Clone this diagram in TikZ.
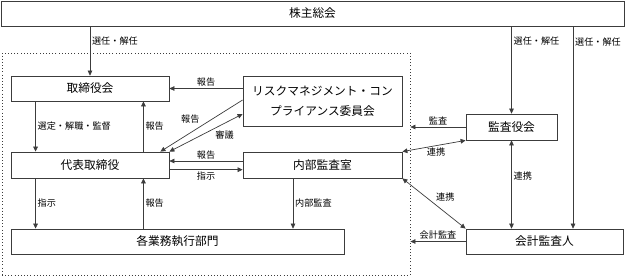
\documentclass[tikz,border=0pt]{standalone}
\usepackage{fontspec}
\setmainfont{Noto Sans CJK JP}
\usepackage{xcolor}
\usetikzlibrary{arrows.meta, positioning, calc}
\definecolor{linegray}{RGB}{60, 60, 60}

\begin{document}
\begin{tikzpicture}[
  x=0.03cm, y=-0.03cm,
  every node/.style={font=\fontsize{10}{12}\selectfont},
  box/.style={draw=linegray, line width=0.7pt, fill=white, align=center, inner sep=0pt},
  arrow/.style={-{Triangle[length=1.5mm, width=1.4mm]}, line width=0.6pt, color=linegray},
  both/.style={{Triangle[length=1.5mm, width=1.4mm]}-{Triangle[length=1.5mm, width=1.4mm]}, line width=0.6pt, color=linegray},
  lbl/.style={font=\fontsize{7.8}{9}\selectfont, text=black, inner sep=1.5pt}
]
  \useasboundingbox (0,0) rectangle (625,277);

  % 点線の枠
  \node[draw=linegray, dotted, line width=0.7pt, minimum width=12.24cm, minimum height=6.66cm, inner sep=0pt] (group) at (206,164) {};

  % ボックス
  \node[box, minimum width=18.69cm, minimum height=0.75cm] (soukai) at (312.5,13.5) {株主総会};
  \node[box, minimum width=4.74cm, minimum height=0.75cm] (board) at (90,88.5) {取締役会};
  \node[box, minimum width=4.77cm, minimum height=1.5cm, font=\fontsize{10}{17}\selectfont] (risk) at (322.5,101) {リスクマネジメント・コン\\プライアンス委員会};
  \node[box, minimum width=4.74cm, minimum height=0.78cm] (ceo) at (90,165) {代表取締役};
  \node[box, minimum width=4.77cm, minimum height=0.78cm] (audit) at (322.5,165) {内部監査室};
  \node[box, minimum width=9.99cm, minimum height=0.75cm] (dept) at (177.5,241.5) {各業務執行部門};
  \node[box, minimum width=2.73cm, minimum height=0.78cm] (kansa) at (511.5,127) {監査役会};
  \node[box, minimum width=4.71cm, minimum height=0.75cm] (kaikei) at (544.5,241.5) {会計監査人};

  % 株主総会から
  \draw[arrow] (soukai.south -| board.north) -- node[lbl, right, pos=0.3] {選任・解任} (board.north);
  \draw[arrow] (soukai.south -| kansa.north) -- node[lbl, right, pos=0.17] {選任・解任} (kansa.north);
  \draw[arrow] ([xshift=0.855cm]kaikei.north |- soukai.south) -- node[lbl, right, pos=0.075] {選任・解任} ([xshift=0.855cm]kaikei.north);

  % 左側
  \draw[arrow] ([xshift=0.75cm]board.south west) -- node[lbl, right] {選定・解職・監督} ([xshift=0.75cm]ceo.north west);
  \draw[arrow] ([xshift=-0.78cm]ceo.north east) -- node[lbl, right] {報告} ([xshift=-0.78cm]board.south east);
  \draw[arrow] (risk.west |- board.east) -- node[lbl, above] {報告} (board.east);
  \draw[arrow] ([yshift=0.03cm]risk.west) -- node[lbl, above left] {報告} ([xshift=-0.27cm]ceo.north east);
  \draw[both] (ceo.north east) -- node[lbl, below right, pos=0.6] {審議} ([yshift=-0.39cm]risk.west);
  \draw[arrow] ([yshift=0.12cm]audit.west) -- node[lbl, above] {報告} ([yshift=0.12cm]ceo.east);
  \draw[arrow] ([yshift=-0.14cm]ceo.east) -- node[lbl, below] {指示} ([yshift=-0.14cm]audit.west);
  \draw[arrow] ([xshift=0.75cm]ceo.south west) -- node[lbl, right] {指示} ([xshift=0.75cm]dept.north west);
  \draw[arrow] ([xshift=-0.78cm]ceo.south east |- dept.north) -- node[lbl, right] {報告} ([xshift=-0.78cm]ceo.south east);
  \draw[arrow] ([xshift=-0.885cm]audit.south) -- node[lbl, right] {内部監査} ([xshift=-0.885cm]audit.south |- dept.north);

  % 右側
  \draw[arrow] (kansa.west) -- node[lbl, above] {監査} (kansa.west -| group.east);
  \draw[both] (kansa.south west) -- node[lbl, below, xshift=0.06cm] {連携} (audit.north east);
  \draw[both] (audit.south east) -- node[lbl, above right] {連携} (kaikei.north west);
  \draw[both] (kansa.south) -- node[lbl, right, pos=0.4] {連携} (kansa.south |- kaikei.north);
  \draw[arrow] (kaikei.west) -- node[lbl, above] {会計監査} (kaikei.west -| group.east);

\end{tikzpicture}
\end{document}
